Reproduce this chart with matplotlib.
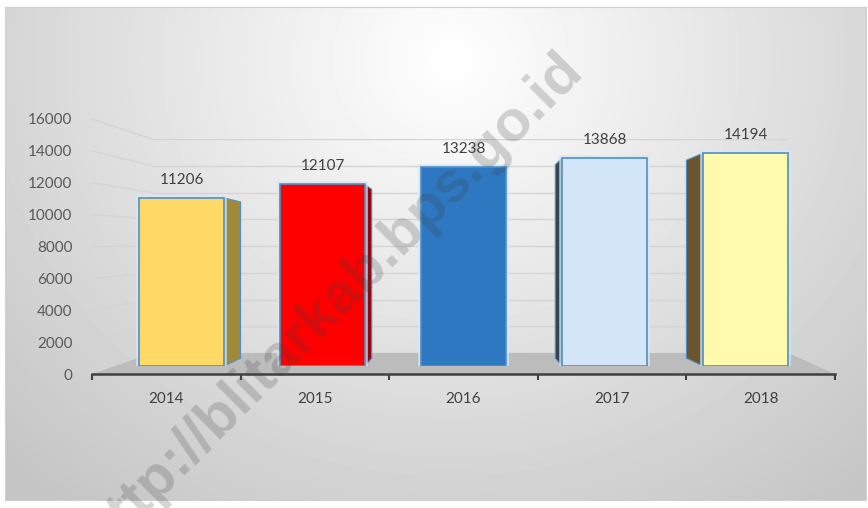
import matplotlib
matplotlib.use("Agg")
import matplotlib.pyplot as plt
import numpy as np
from matplotlib.patches import Polygon, ConnectionPatch

plt.rcParams["font.family"] = ["Lato", "DejaVu Sans"]

years = ["2014", "2015", "2016", "2017", "2018"]
values = [11206, 12107, 13238, 13868, 14194]
front_colors = ["#FFD966", "#FF0000", "#2E78C2", "#D3E6F8", "#FFFAAE"]
side_colors = ["#9E8A3A", "#8E0A12", "#1F4E79", "#36444F", "#6B5530"]
y_ticks = list(range(0, 16001, 2000))

W, H = 868, 508
fig = plt.figure(figsize=(W / 100, H / 100), dpi=100)
fig.patch.set_facecolor("white")


def frac(x0, y0, x1, y1):
    # pixel box (origin top-left) -> figure fraction rect
    return [x0 / W, 1 - y1 / H, (x1 - x0) / W, (y1 - y0) / H]


# background gradient of the chart area
bg = fig.add_axes(frac(5, 7, 866, 500), zorder=0)
yy, xx = np.mgrid[0:493, 0:861]
r = np.sqrt(((xx + 5 - 450) / 520.0) ** 2 + ((yy + 7 - 60) / 470.0) ** 2)
grad = 1 - 0.19 * np.clip(r, 0, 1.2)
bg.imshow(grad, cmap="gray", vmin=0, vmax=1, extent=(0, 1, 0, 1), aspect="auto")
bg.set_xticks([])
bg.set_yticks([])
for s in bg.spines.values():
    s.set_color("#d0d0d0")

# back wall with gridlines
wx = fig.add_axes(frac(152, 139, 788, 353), zorder=1)
wx.set_xlim(0, 1)
wx.set_ylim(0, 16000)
for v in y_ticks:
    wx.axhline(v, color="#d4d4d4", lw=1)
wx.axis("off")

# front axis with labels
ax = fig.add_axes(frac(92, 119, 835, 374), zorder=2)
ax.patch.set_alpha(0)
ax.set_xlim(-0.5, 4.5)
ax.set_ylim(0, 16000)
for side in ["top", "right", "left"]:
    ax.spines[side].set_visible(False)
ax.spines["bottom"].set_color("#404040")
ax.spines["bottom"].set_linewidth(1.8)
ax.set_xticks(range(len(years)))
ax.set_xticklabels(years)
ax.set_xticks(np.arange(-0.5, len(years)), minor=True)
ax.tick_params(axis="x", which="major", length=0, pad=13, labelsize=11, labelcolor="#404040")
ax.tick_params(axis="x", which="minor", length=4, width=1.5, color="#404040")
ax.set_yticks(y_ticks)
ax.set_yticklabels([str(v) for v in y_ticks])
ax.tick_params(axis="y", length=0, pad=14, labelsize=11, labelcolor="#595959")

# slanted gridline connectors to the back wall
for v in y_ticks[1:]:
    con = ConnectionPatch(xyA=(-0.5, v), coordsA=ax.transData, xyB=(0, v), coordsB=wx.transData,
                          color="#d4d4d4", lw=1, zorder=1.5)
    fig.add_artist(con)

# floor
pts = [ax.transData.transform((-0.5, 0)), ax.transData.transform((4.5, 0)),
       wx.transData.transform((1, 0)), wx.transData.transform((0, 0))]
pts = fig.transFigure.inverted().transform(np.array(pts))
fig.add_artist(Polygon(pts, closed=True, transform=fig.transFigure, facecolor="#bcbcbc",
                       edgecolor="none", zorder=1.6))

# bars
bx = fig.add_axes(frac(111, 126, 816, 366), zorder=3)
bx.set_xlim(-0.5, 4.5)
bx.set_ylim(0, 16000)
bx.axis("off")

bw = 0.6
k = 0.07
vx, vy = 2.0, 7400.0
for i, v in enumerate(values):
    xl, xr = i - bw / 2, i + bw / 2
    edge = None
    if i < vx:
        edge = xr
    elif i > vx:
        edge = xl
    if edge is not None:
        bk = edge + k * (vx - edge)
        poly = [(edge, 0), (edge, v), (bk, v + k * (vy - v)), (bk, k * vy)]
        bx.add_patch(Polygon(poly, closed=True, facecolor=side_colors[i],
                             edgecolor="#4F8FC6", lw=0.8, zorder=2))
    bx.bar(i, v, width=bw, color="none", edgecolor="#d6e8f6", lw=4, alpha=0.8, zorder=2.5)
    bx.bar(i, v, width=bw, color=front_colors[i], edgecolor="#4F8FC6", lw=1.2, zorder=3)
    bx.annotate(str(v), (i, v), xytext=(0, 8), textcoords="offset points",
                ha="center", va="bottom", fontsize=11, color="#404040")

# watermark
fig.text(0.3836, 0.4055, "http://blitarkab.bps.go.id", rotation=45, ha="center", va="center",
         fontsize=42, fontweight="bold", color="#404040", alpha=0.22,
         family="Liberation Sans", zorder=10)

fig.savefig("out.png", dpi=100)
